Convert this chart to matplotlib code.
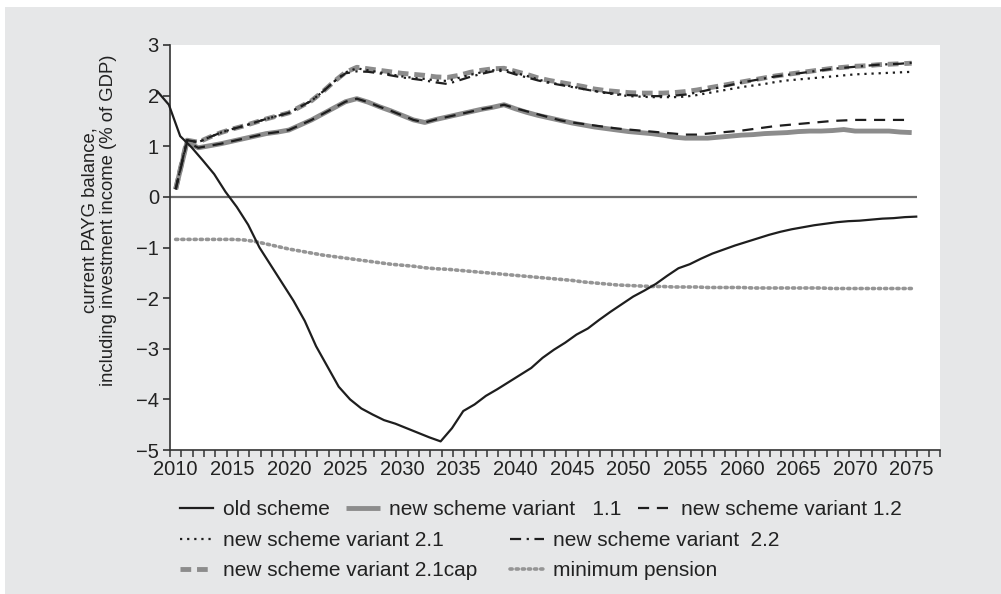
import numpy as np
import matplotlib
matplotlib.use("Agg")
import matplotlib.pyplot as plt
from matplotlib.patches import Rectangle

plt.rcParams['font.family'] = ['Liberation Sans', 'DejaVu Sans']

years = np.arange(2010, 2076)
old_years = np.arange(2008, 2076)

old_scheme = [2.08, 1.82, 1.20, 0.98, 0.72, 0.45, 0.10, -0.20, -0.55, -1.00, -1.35, -1.70,
              -2.05, -2.45, -2.95, -3.35, -3.75, -4.00, -4.18, -4.30, -4.41, -4.48, -4.57,
              -4.66, -4.75, -4.83, -4.57, -4.23, -4.10, -3.93, -3.80, -3.66, -3.52, -3.38,
              -3.18, -3.02, -2.88, -2.72, -2.60, -2.43, -2.27, -2.12, -1.97, -1.85, -1.72,
              -1.56, -1.41, -1.33, -1.22, -1.12, -1.04, -0.96, -0.89, -0.82, -0.75, -0.69,
              -0.64, -0.60, -0.56, -0.53, -0.50, -0.48, -0.47, -0.45, -0.43, -0.42, -0.40, -0.39]

v11 = [0.15, 1.08, 0.97, 1.01, 1.05, 1.10, 1.15, 1.20, 1.25, 1.28, 1.32, 1.42, 1.52, 1.64,
       1.76, 1.88, 1.94, 1.87, 1.78, 1.70, 1.61, 1.52, 1.47, 1.53, 1.58, 1.63, 1.68, 1.73,
       1.77, 1.82, 1.74, 1.67, 1.61, 1.56, 1.51, 1.46, 1.42, 1.38, 1.35, 1.32, 1.29, 1.27,
       1.25, 1.22, 1.18, 1.16, 1.16, 1.16, 1.18, 1.20, 1.22, 1.23, 1.25, 1.26, 1.27, 1.29,
       1.30, 1.30, 1.31, 1.33, 1.30, 1.30, 1.30, 1.30, 1.28, 1.27]

v12 = [0.15, 1.08, 0.97, 1.01, 1.05, 1.10, 1.15, 1.20, 1.25, 1.28, 1.32, 1.42, 1.52, 1.64,
       1.76, 1.88, 1.94, 1.87, 1.78, 1.70, 1.61, 1.52, 1.47, 1.53, 1.58, 1.63, 1.68, 1.73,
       1.77, 1.82, 1.75, 1.69, 1.63, 1.57, 1.51, 1.47, 1.44, 1.41, 1.38, 1.35, 1.33, 1.31,
       1.29, 1.27, 1.25, 1.23, 1.23, 1.25, 1.27, 1.29, 1.31, 1.34, 1.37, 1.40, 1.42, 1.44,
       1.46, 1.48, 1.50, 1.51, 1.52, 1.52, 1.52, 1.52, 1.52, 1.52]

v21 = [0.15, 1.12, 1.08, 1.18, 1.27, 1.34, 1.40, 1.47, 1.54, 1.60, 1.66, 1.78, 1.90, 2.08,
       2.28, 2.46, 2.54, 2.50, 2.46, 2.42, 2.38, 2.35, 2.33, 2.30, 2.29, 2.35, 2.41, 2.46,
       2.50, 2.52, 2.45, 2.39, 2.32, 2.26, 2.22, 2.18, 2.13, 2.09, 2.05, 2.02, 1.99, 1.98,
       1.97, 1.97, 1.97, 1.98, 2.01, 2.05, 2.09, 2.13, 2.17, 2.20, 2.23, 2.27, 2.30, 2.32,
       2.34, 2.36, 2.38, 2.40, 2.42, 2.43, 2.44, 2.45, 2.46, 2.47]

v22 = [0.15, 1.12, 1.08, 1.18, 1.27, 1.34, 1.40, 1.47, 1.54, 1.60, 1.66, 1.78, 1.90, 2.08,
       2.28, 2.44, 2.48, 2.47, 2.44, 2.40, 2.36, 2.33, 2.30, 2.26, 2.23, 2.30, 2.37, 2.43,
       2.48, 2.49, 2.42, 2.36, 2.30, 2.25, 2.21, 2.17, 2.13, 2.09, 2.06, 2.03, 2.01, 2.00,
       1.99, 1.99, 2.00, 2.02, 2.06, 2.11, 2.16, 2.21, 2.26, 2.30, 2.34, 2.38, 2.41, 2.44,
       2.47, 2.50, 2.53, 2.55, 2.57, 2.59, 2.61, 2.62, 2.63, 2.65]

v21cap = [0.15, 1.12, 1.08, 1.18, 1.27, 1.34, 1.40, 1.47, 1.54, 1.60, 1.66, 1.78, 1.90, 2.08,
          2.28, 2.46, 2.56, 2.53, 2.50, 2.47, 2.44, 2.42, 2.40, 2.37, 2.36, 2.40, 2.46, 2.50,
          2.53, 2.54, 2.48, 2.42, 2.35, 2.30, 2.26, 2.22, 2.18, 2.13, 2.10, 2.08, 2.06, 2.05,
          2.05, 2.05, 2.06, 2.08, 2.11, 2.15, 2.19, 2.23, 2.27, 2.31, 2.35, 2.39, 2.42, 2.45,
          2.48, 2.51, 2.54, 2.56, 2.58, 2.59, 2.61, 2.62, 2.63, 2.64]

min_pension = [-0.84, -0.84, -0.84, -0.84, -0.84, -0.84, -0.85, -0.88, -0.93, -0.98, -1.03,
               -1.07, -1.11, -1.15, -1.18, -1.21, -1.24, -1.27, -1.30, -1.33, -1.35, -1.37,
               -1.40, -1.42, -1.43, -1.45, -1.47, -1.49, -1.51, -1.53, -1.55, -1.57, -1.59,
               -1.61, -1.63, -1.65, -1.68, -1.70, -1.72, -1.74, -1.75, -1.76, -1.77, -1.77,
               -1.78, -1.78, -1.78, -1.79, -1.79, -1.79, -1.79, -1.80, -1.80, -1.80, -1.80,
               -1.80, -1.80, -1.80, -1.81, -1.81, -1.81, -1.81, -1.81, -1.81, -1.81, -1.81]

bg = '#e6e7e8'
grey = '#8c8c8c'
ink = '#1e1e1e'

fig = plt.figure(figsize=(10.01, 5.94), dpi=100, facecolor='white')
fig.patches.append(Rectangle((5 / 1001, 0), 1, (594 - 7) / 594, transform=fig.transFigure,
                             facecolor=bg, edgecolor='none', zorder=-10))
ax = fig.add_axes([170 / 1001, 144 / 594, 770 / 1001, 405 / 594])
ax.set_facecolor('white')

ax.hlines(0, 2009.5, 2075.5, color='#6d6d6d', lw=1.6, zorder=1)

l_v11, = ax.plot(years, v11, color=grey, lw=3.5, solid_capstyle='butt', zorder=2)
l_cap, = ax.plot(years, v21cap, color=grey, lw=3.5, ls=(0, (2.2, 1.2)), zorder=2)
l_min, = ax.plot(years, min_pension, color='#959595', lw=2.6, ls=(0, (0.6, 1.1)),
                 dash_capstyle='round', zorder=2)
# old scheme line sits slightly right of the category centres in the original
l_old, = ax.plot(old_years + 0.4, old_scheme, color=ink, lw=1.6, clip_on=False, zorder=3)
l_12, = ax.plot(years, v12, color=ink, lw=1.6, ls=(0, (5, 3.5)), zorder=3)
l_21, = ax.plot(years, v21, color=ink, lw=1.6, ls=(0, (1, 2.2)), zorder=3)
l_22, = ax.plot(years, v22, color=ink, lw=1.6, ls=(0, (5, 2.5, 1, 2.5)), zorder=3)

ax.set_xlim(2009.5, 2077.5)
ax.set_ylim(-5, 3)
ax.set_xticks(np.arange(2010, 2076, 5))
ax.set_xticks(np.arange(2009.5, 2078, 1), minor=True)
ax.set_yticks(np.arange(-5, 4, 1))
ax.tick_params(axis='x', which='major', length=0, labelsize=14.5, pad=7, colors='#222222')
ax.tick_params(axis='x', which='minor', length=5, width=1.1, direction='out', color='#333333')
ax.tick_params(axis='y', length=5, width=1.1, direction='out', labelsize=14.5,
               colors='#222222', pad=3)
for s in ['top', 'right']:
    ax.spines[s].set_visible(False)
for s in ['left', 'bottom']:
    ax.spines[s].set_color('#333333')
    ax.spines[s].set_linewidth(1.2)

ax.set_ylabel('current PAYG balance,\nincluding investment income (% of GDP)',
              fontsize=13.3, color='#222222', linespacing=1.1)
ax.yaxis.set_label_coords(-0.069, 0.567)

leg_kw = dict(frameon=False, fontsize=15, handlelength=1.6, handletextpad=0.45,
              borderpad=0, borderaxespad=0, labelcolor='#222222')
leg1 = fig.legend([l_old, l_v11, l_12],
                  ['old scheme', 'new scheme variant   1.1', 'new scheme variant 1.2'],
                  loc='upper left', bbox_to_anchor=(180 / 1001, 1 - 500 / 594), ncol=3,
                  columnspacing=0.8, **leg_kw)
leg2 = fig.legend([l_21, l_cap, l_22, l_min],
                  ['new scheme variant 2.1', 'new scheme variant 2.1cap',
                   'new scheme variant  2.2', 'minimum pension'],
                  loc='upper left', bbox_to_anchor=(180 / 1001, 1 - 531 / 594), ncol=2,
                  columnspacing=1.6, labelspacing=0.55, **leg_kw)

fig.savefig('out.png', dpi=100, facecolor=fig.get_facecolor())
